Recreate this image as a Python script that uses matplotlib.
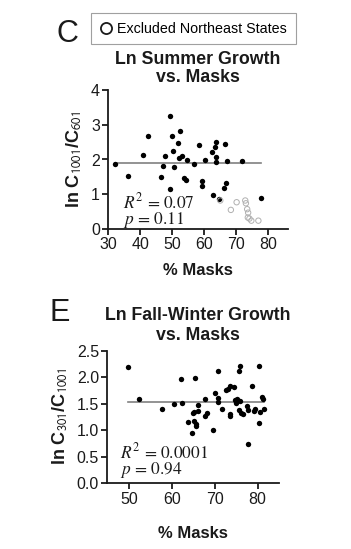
import matplotlib
matplotlib.use("Agg")
import matplotlib.pyplot as plt
from matplotlib.lines import Line2D

plt.rcParams['font.family'] = ['Liberation Sans', 'DejaVu Sans']
plt.rcParams['mathtext.fontset'] = 'stix'

# panel C: summer growth vs masks
summer_masks = [32.1, 36.1, 40.9, 42.4, 46.6, 47.1, 47.8, 49.2, 49.4, 50.0, 50.2, 50.5,
                51.7, 52.5, 52.0, 53.1, 53.6, 54.2, 54.5, 56.9, 58.3, 59.3, 59.3, 60.3,
                62.3, 62.6, 63.2, 63.8, 63.8, 63.8, 64.5, 66.5, 66.7, 66.3, 67.1, 71.9, 77.6]
summer_growth = [1.88, 1.52, 2.14, 2.68, 1.51, 1.82, 2.10, 1.14, 3.26, 2.69, 2.24, 1.78,
                 2.48, 2.83, 2.05, 2.10, 1.46, 1.42, 1.98, 1.88, 2.42, 1.38, 1.24, 1.98,
                 2.21, 0.98, 2.36, 2.51, 2.07, 1.92, 0.85, 2.44, 1.32, 1.17, 1.96, 1.96, 0.88]
ne_masks = [65.0, 68.3, 70.1, 72.8, 73.0, 73.4, 73.7, 73.6, 74.1, 74.7, 76.9]
ne_growth = [0.82, 0.55, 0.77, 0.82, 0.74, 0.57, 0.47, 0.33, 0.30, 0.24, 0.24]
summer_fit = 1.89
summer_stats = ['0.07', '0.11']

# panel E: fall-winter growth vs masks
fall_masks = [49.9, 52.3, 57.8, 60.5, 62.2, 62.3, 63.7, 65.5, 64.9, 65.3, 64.8, 65.3,
              65.7, 65.7, 66.1, 66.1, 67.8, 67.8, 68.2, 69.6, 70.2, 70.8, 70.8, 70.9,
              71.7, 72.7, 73.1, 73.5, 73.7, 73.7, 74.6, 74.8, 75.0, 75.2, 75.6, 76.0,
              75.6, 75.8, 76.2, 76.6, 77.5, 77.8, 77.8, 78.8, 79.1, 79.5, 80.4, 80.4,
              80.6, 81.0, 81.2, 81.4]
fall_growth = [2.19, 1.58, 1.40, 1.49, 1.96, 1.52, 1.16, 1.98, 1.33, 1.35, 0.94, 1.18,
               1.12, 1.08, 1.48, 1.37, 1.58, 1.26, 1.33, 1.01, 1.71, 2.11, 1.60, 1.54,
               1.40, 1.76, 1.77, 1.84, 1.31, 1.27, 1.81, 1.57, 1.52, 1.58, 2.12, 2.22,
               1.38, 1.55, 1.32, 1.31, 1.46, 1.38, 0.75, 1.84, 1.37, 1.41, 2.21, 1.13,
               1.35, 1.63, 1.59, 1.40]
fall_fit = 1.54
fall_stats = ['0.0001', '0.94']

W, H = 351, 549
fig = plt.figure(figsize=(W / 100, H / 100), dpi=100)
ink = '#1a1a1a'


def px_axes(left, top, right, bottom):
    return fig.add_axes([left / W, 1 - bottom / H, (right - left) / W, (bottom - top) / H])


def style(ax):
    for s in ['top', 'right']:
        ax.spines[s].set_visible(False)
    for s in ['left', 'bottom']:
        ax.spines[s].set_linewidth(1.3)
        ax.spines[s].set_color(ink)
    ax.tick_params(direction='out', length=4, width=1.3, color=ink,
                   labelsize=11.5, labelcolor=ink, pad=2)


def stats_text(ax, x, y, stats):
    txt = r'$R^2$ = ' + stats[0] + '\n' + r'$p$ = ' + stats[1]
    ax.text(x, y, txt, transform=ax.transAxes, fontsize=12.5, family='STIXGeneral',
            color=ink, va='center', ha='left', linespacing=0.85)


# ---- panel C
ax1 = px_axes(108.3, 90, 288.3, 229)
ax1.scatter(summer_masks, summer_growth, s=15, color='black', zorder=3, linewidths=0)
ax1.scatter(ne_masks, ne_growth, s=15, facecolors='none', edgecolors='#b0b0b0',
            linewidths=0.7, zorder=3)
ax1.plot([min(summer_masks), max(summer_masks)], [summer_fit, summer_fit],
         color='#808080', lw=1.2, zorder=2)
ax1.set_xlim(30, 86.25)
ax1.set_ylim(0, 4)
ax1.set_xticks([30, 40, 50, 60, 70, 80])
ax1.set_yticks([0, 1, 2, 3, 4])
style(ax1)
ax1.set_xlabel('% Masks', fontsize=12, fontweight='bold', color=ink, labelpad=8)
ax1.set_ylabel(r'ln C$_{\mathsf{1001}}$/C$_{\mathsf{601}}$', fontsize=13, fontweight='bold',
               color=ink, labelpad=5)
stats_text(ax1, 0.082, 0.13, summer_stats)

fig.text(67 / W, 1 - 34 / H, 'C', fontsize=22, ha='center', va='center', color=ink)
fig.text(198 / W, 1 - 60 / H, 'Ln Summer Growth', fontsize=12.8, fontweight='bold',
         ha='center', va='center', color=ink)
fig.text(198 / W, 1 - 78 / H, 'vs. Masks', fontsize=12.8, fontweight='bold',
         ha='center', va='center', color=ink)

# legend box for excluded states
leg_handle = Line2D([], [], marker='o', linestyle='none', markerfacecolor='none',
                    markeredgecolor=ink, markersize=8, markeredgewidth=1.3)
leg = fig.legend([leg_handle], ['Excluded Northeast States'], loc='upper left',
                 bbox_to_anchor=(91 / W, 1 - 13 / H), fontsize=10.3, frameon=True,
                 fancybox=False, edgecolor='#888888', handlelength=0.9, handletextpad=0.35,
                 borderpad=0.6, borderaxespad=0)
leg.get_frame().set_linewidth(0.8)

# ---- panel E
ax2 = px_axes(107.3, 350.7, 279, 483.3)
ax2.scatter(fall_masks, fall_growth, s=15, color='black', zorder=3, linewidths=0)
ax2.plot([min(fall_masks), max(fall_masks)], [fall_fit, fall_fit],
         color='#808080', lw=1.2, zorder=2)
ax2.set_xlim(45, 85)
ax2.set_ylim(0, 2.5)
ax2.set_xticks([50, 60, 70, 80])
ax2.set_yticks([0.0, 0.5, 1.0, 1.5, 2.0, 2.5])
ax2.set_yticklabels(['0.0', '0.5', '1.0', '1.5', '2.0', '2.5'])
style(ax2)
ax2.set_xlabel('% Masks', fontsize=12, fontweight='bold', color=ink, labelpad=14)
ax2.set_ylabel(r'ln C$_{\mathsf{301}}$/C$_{\mathsf{1001}}$', fontsize=13, fontweight='bold',
               color=ink, labelpad=5)
stats_text(ax2, 0.074, 0.165, fall_stats)

fig.text(60 / W, 1 - 313 / H, 'E', fontsize=22, ha='center', va='center', color=ink)
fig.text(198 / W, 1 - 315 / H, 'Ln Fall-Winter Growth', fontsize=12.8, fontweight='bold',
         ha='center', va='center', color=ink)
fig.text(198 / W, 1 - 335 / H, 'vs. Masks', fontsize=12.8, fontweight='bold',
         ha='center', va='center', color=ink)

fig.savefig('out.png', dpi=100)
